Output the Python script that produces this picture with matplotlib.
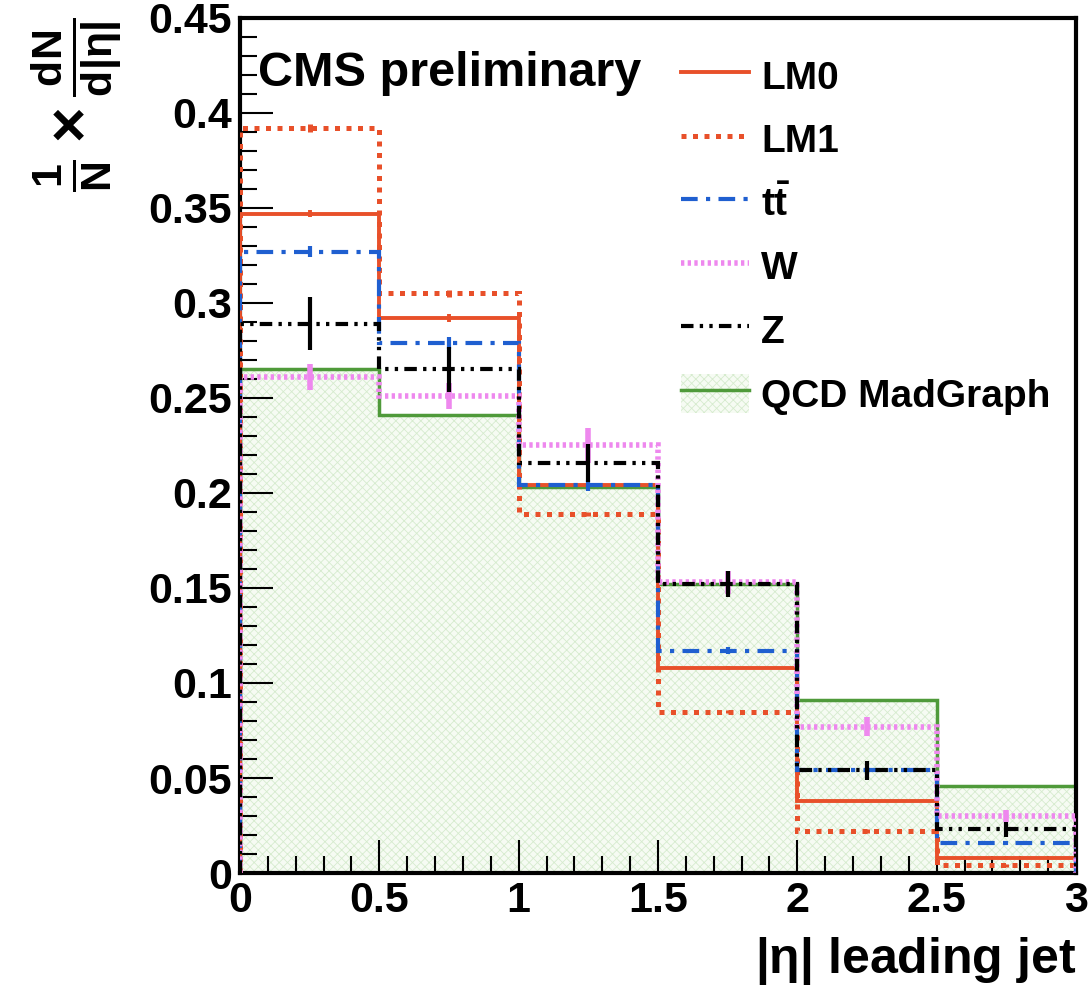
import numpy as np
import matplotlib
matplotlib.use("Agg")
import matplotlib.pyplot as plt
from matplotlib.patches import Patch
from matplotlib.lines import Line2D
from matplotlib.ticker import MultipleLocator, FormatStrFormatter

plt.rcParams['font.family'] = ['Liberation Sans', 'DejaVu Sans']
plt.rcParams['font.weight'] = 'bold'
plt.rcParams['mathtext.fontset'] = 'custom'
plt.rcParams['mathtext.rm'] = 'Liberation Sans:bold'
plt.rcParams['mathtext.bf'] = 'Liberation Sans:bold'
plt.rcParams['mathtext.it'] = 'Liberation Sans:bold'
plt.rcParams['hatch.linewidth'] = 0.6

# bin edges in |eta| of the leading jet
edges = [0, 0.5, 1.0, 1.5, 2.0, 2.5, 3.0]

# normalised distributions
lm0 = [0.347, 0.292, 0.204, 0.108, 0.038, 0.008]
lm0_err = [0.002, 0.002, 0.002, 0.001, 0.001, 0.001]
lm1 = [0.392, 0.305, 0.189, 0.085, 0.022, 0.004]
lm1_err = [0.002, 0.002, 0.001, 0.001, 0.001, 0.001]
ttbar = [0.327, 0.279, 0.204, 0.117, 0.054, 0.016]
ttbar_err = [0.003, 0.003, 0.003, 0.002, 0.002, 0.001]
wjets = [0.261, 0.251, 0.225, 0.153, 0.077, 0.030]
wjets_err = [0.007, 0.007, 0.009, 0.006, 0.005, 0.003]
zjets = [0.289, 0.265, 0.216, 0.152, 0.054, 0.023]
zjets_err = [0.014, 0.012, 0.010, 0.007, 0.005, 0.004]
qcd = [0.265, 0.241, 0.203, 0.152, 0.091, 0.046]

centers = [(edges[i] + edges[i + 1]) / 2 for i in range(len(edges) - 1)]

fig = plt.figure(figsize=(10.88, 9.94), dpi=100)
ax = fig.add_axes([0.2206, 0.1217, 0.7684, 0.8603])

# QCD filled histogram
green = '#4f9a3a'
ax.stairs(qcd, edges, fill=True, facecolor='#f6fbf3', edgecolor='#d6ebce',
          hatch='xxxx', linewidth=0, zorder=1)
ax.stairs(qcd, edges, color=green, linewidth=2.5, zorder=2)

red = '#e8502a'
blue = '#1f5fd0'
violet = '#ee88ee'

styles = [
    (lm0, lm0_err, red, '-', 2.8),
    (lm1, lm1_err, red, (0, (1, 1.3)), 3.6),
    (ttbar, ttbar_err, blue, (0, (4, 2, 1, 2)), 3.0),
    (wjets, wjets_err, violet, (0, (0.6, 0.6)), 4.0),
    (zjets, zjets_err, 'black', (0, (3, 1.5, 0.8, 1.5, 0.8, 1.5)), 3.0),
]
for vals, errs, col, ls, lw in styles:
    ax.stairs(vals, edges, color=col, linestyle=ls, linewidth=lw, zorder=3)
    ax.errorbar(centers, vals, yerr=errs, fmt='none', ecolor=col,
                elinewidth=lw, linestyle=ls, zorder=3)

ax.set_xlim(0, 3)
ax.set_ylim(0, 0.45)
ax.xaxis.set_major_locator(MultipleLocator(0.5))
ax.xaxis.set_minor_locator(MultipleLocator(0.1))
ax.yaxis.set_major_locator(MultipleLocator(0.05))
ax.yaxis.set_minor_locator(MultipleLocator(0.01))
ax.xaxis.set_major_formatter(FormatStrFormatter('%g'))
ax.yaxis.set_major_formatter(FormatStrFormatter('%g'))
ax.tick_params(which='both', direction='in', top=False, right=False,
               width=1.5, labelsize=31, pad=6)
ax.tick_params(which='major', length=24)
ax.tick_params(which='minor', length=12)
for s in ax.spines.values():
    s.set_linewidth(3)

ax.set_xlabel(r'|$\eta$| leading jet', fontsize=36, fontweight='bold',
              loc='right', labelpad=10)
ax.set_ylabel(r'$\frac{1}{N}\times\frac{dN}{d|\eta|}$', fontsize=44,
              loc='top')
ax.yaxis.set_label_coords(-0.14, 1.0)

ax.text(0.022, 0.935, 'CMS preliminary', transform=ax.transAxes,
        fontsize=35, fontweight='bold', va='center', ha='left')

handles = [
    Line2D([], [], color=red, lw=2.8),
    Line2D([], [], color=red, lw=3.6, linestyle=(0, (1, 1.3))),
    Line2D([], [], color=blue, lw=3.0, linestyle=(0, (4, 2, 1, 2))),
    Line2D([], [], color=violet, lw=4.0, linestyle=(0, (0.6, 0.6))),
    Line2D([], [], color='black', lw=3.0, linestyle=(0, (3, 1.5, 0.8, 1.5, 0.8, 1.5))),
    (Patch(facecolor='#f6fbf3', edgecolor='#d6ebce', hatch='xxxx', lw=0),
     Line2D([], [], color=green, lw=2.5)),
]
labels = ['LM0', 'LM1', r'$t\bar{t}$', 'W', 'Z', 'QCD MadGraph']
ax.legend(handles, labels, loc='upper left', bbox_to_anchor=(0.486, 0.997),
          frameon=False, handlelength=1.75, handleheight=1.2,
          labelspacing=0.58, handletextpad=0.3, prop={'weight': 'bold', 'size': 28})

fig.savefig('out.png', dpi=100)
